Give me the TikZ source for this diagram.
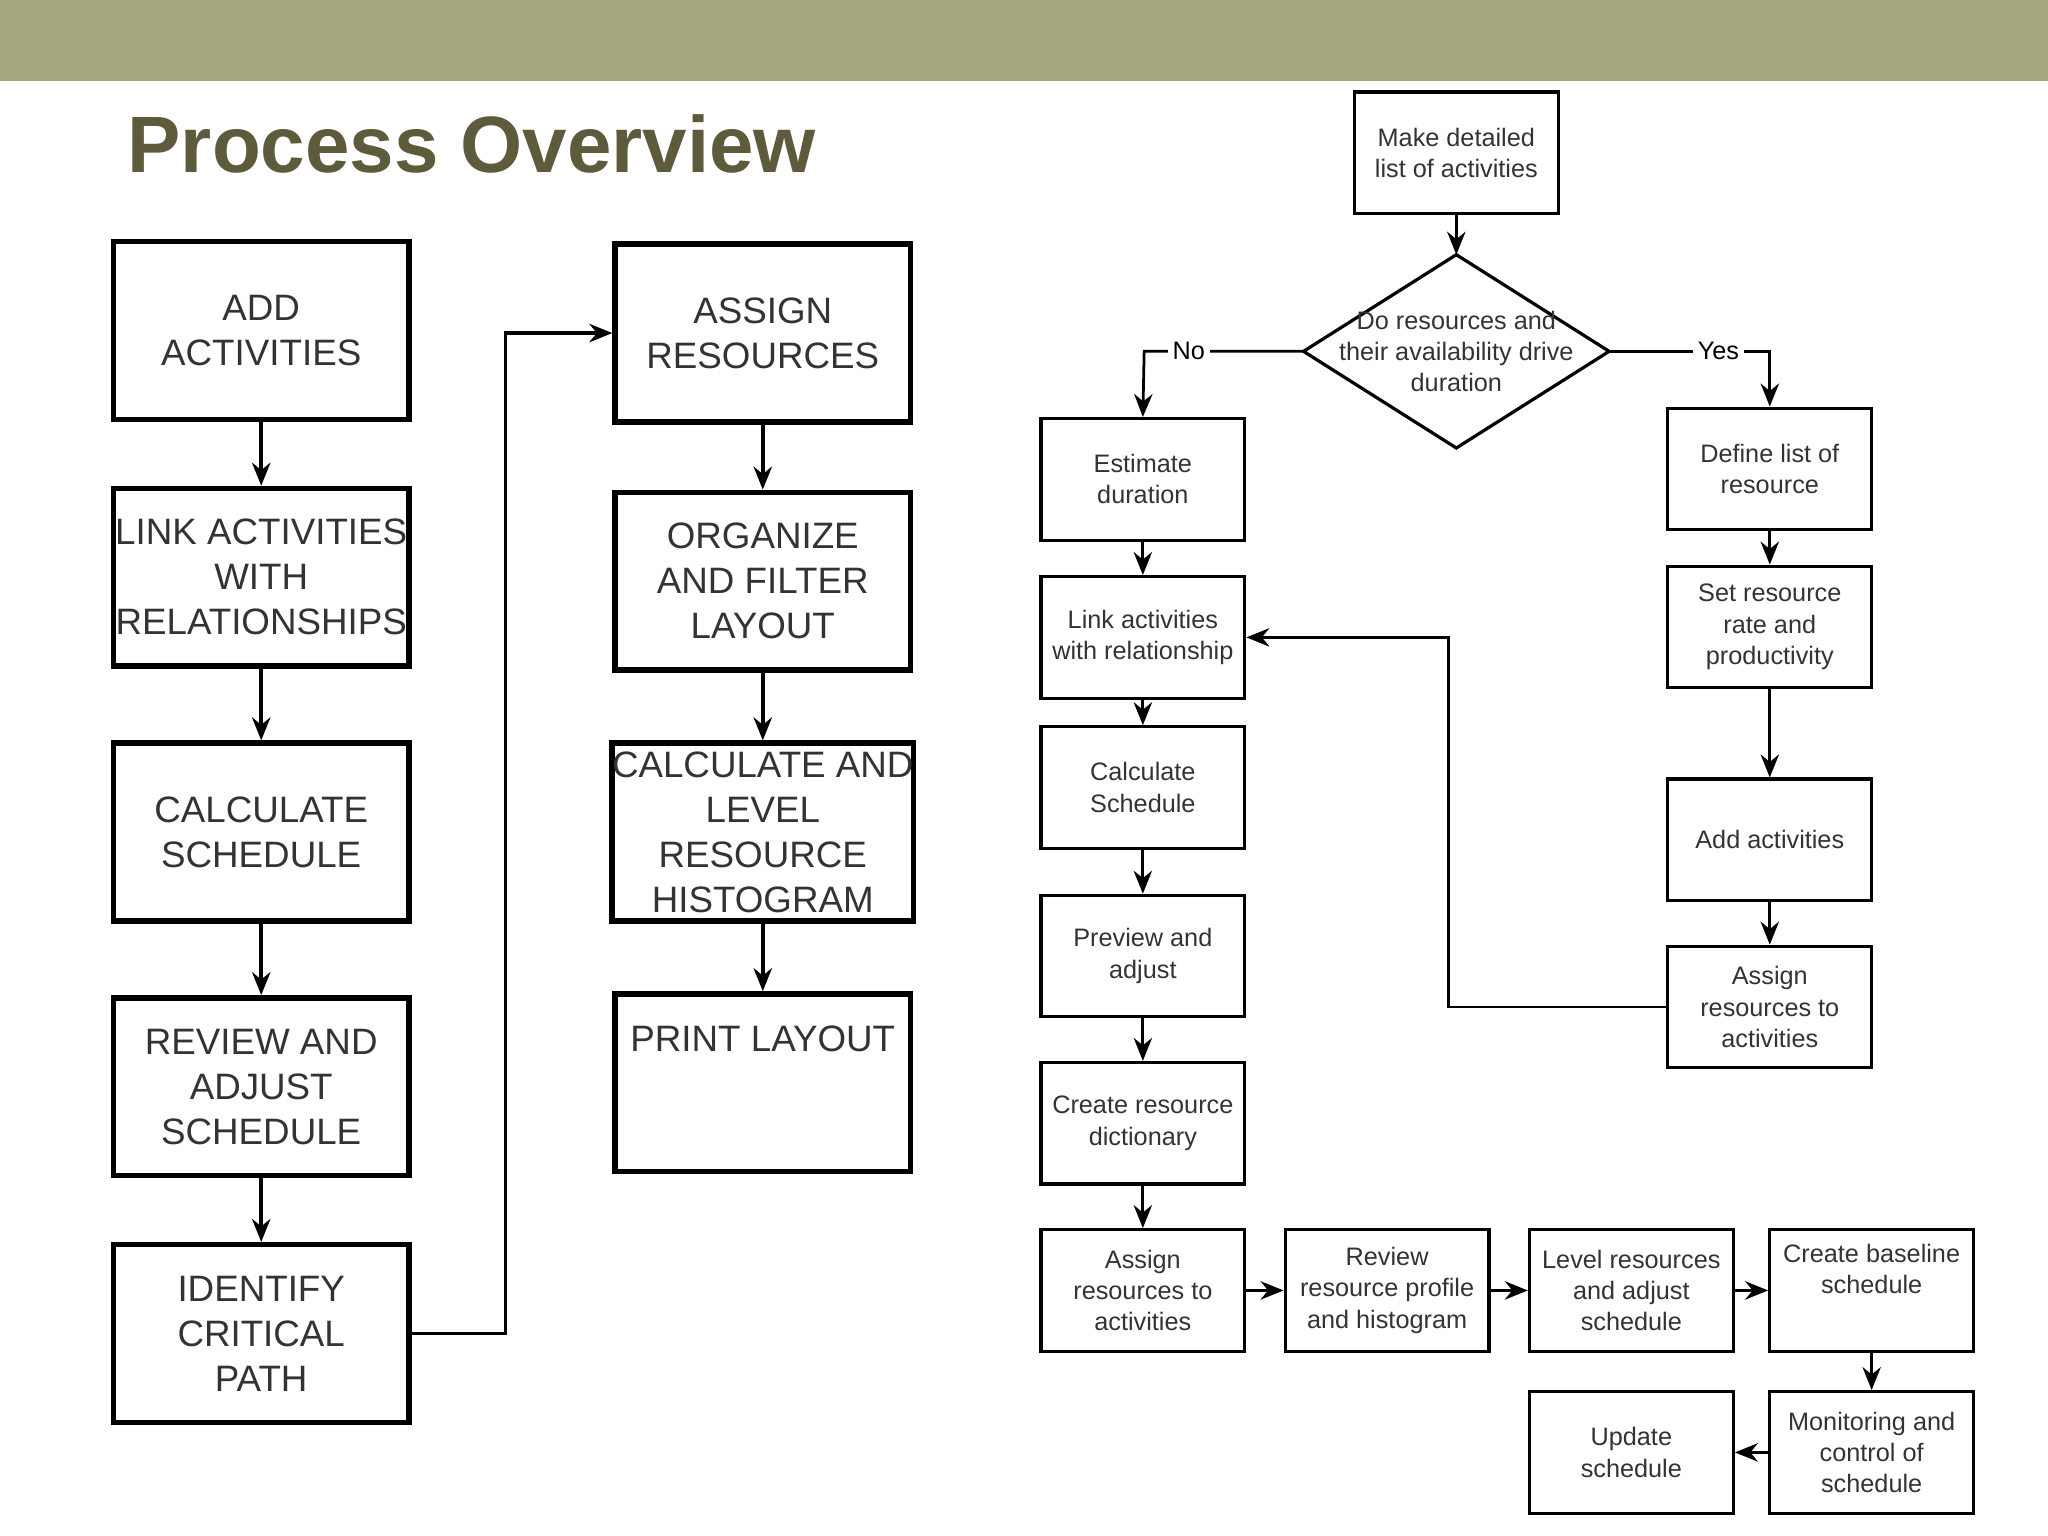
\documentclass[tikz,border=0pt]{standalone}
\usepackage{fontspec}
\setmainfont{Liberation Sans}
\usetikzlibrary{arrows.meta}
\definecolor{band}{RGB}{166,166,124}
\definecolor{ttl}{RGB}{94,90,60}
\begin{document}
\begin{tikzpicture}[x=0.01cm,y=-0.01cm,>={Stealth[length=5pt,width=4pt]},
  big/.style={draw,line width=1.2pt,minimum width=2.26cm,minimum height=1.36cm,align=center,
    inner sep=0pt,font=\fontsize{8}{9.8}\selectfont,text=black!80},
  sm/.style={draw,line width=0.7pt,minimum width=1.56cm,minimum height=0.93cm,align=center,
    inner sep=0pt,font=\fontsize{5.5}{6.8}\selectfont,text=black!80},
  arr/.style={->,line width=0.8pt},
  thn/.style={->,line width=0.6pt}]
\useasboundingbox (0,0) rectangle (1568,1176);
\fill[band] (0,0) rectangle (1568,62);
\node[anchor=west,font=\fontsize{17.4}{20}\selectfont\bfseries,text=ttl,inner sep=0] (title) at (97,110) {Process Overview};
% left columns
\node[big] (a1) at (200,253) {ADD\\ACTIVITIES};
\node[big] (a2) at (200,442) {LINK ACTIVITIES\\WITH\\RELATIONSHIPS};
\node[big] (a3) at (200,637) {CALCULATE\\SCHEDULE};
\node[big] (a4) at (200,832) {REVIEW AND\\ADJUST\\SCHEDULE};
\node[big] (a5) at (200,1021) {IDENTIFY\\CRITICAL\\PATH};
\node[big] (b1) at (584,255) {ASSIGN\\RESOURCES};
\node[big] (b2) at (584,445) {ORGANIZE\\AND FILTER\\LAYOUT};
\node[big] (b3) at (584,637) {CALCULATE AND\\LEVEL\\RESOURCE\\HISTOGRAM};
\node[big] (b4) at (584,829) {PRINT LAYOUT\\[1.2em]};
\foreach \p/\q in {a1/a2,a2/a3,a3/a4,a4/a5,b1/b2,b2/b3,b3/b4}
  \draw[arr] (\p) -- (\q);
\draw[arr] (a5.east) -- (387,1021) |- (b1.west);
% right flowchart
\node[sm] (m) at (1115,117) {Make detailed\\list of activities};
\coordinate (dn) at (1115,195);
\coordinate (dw) at (998,269);
\coordinate (de) at (1232,269);
\draw[line width=0.7pt] (dn) -- (de) -- (1115,343) -- (dw) -- cycle;
\node[font=\fontsize{5.5}{6.8}\selectfont,text=black!80,align=center,inner sep=0] (d) at (1115,269)
  {Do resources and\\their availability drive\\duration};
\node[sm] (e1) at (875,367) {Estimate\\duration};
\node[sm] (e2) at (875,488) {Link activities\\with relationship};
\node[sm] (e3) at (875,603) {Calculate\\Schedule};
\node[sm] (e4) at (875,732) {Preview and\\adjust};
\node[sm] (e5) at (875,860) {Create resource\\dictionary};
\node[sm] (e6) at (875,988) {Assign\\resources to\\activities};
\node[sm] (f1) at (1062,988) {Review\\resource profile\\and histogram};
\node[sm] (f2) at (1249,988) {Level resources\\and adjust\\schedule};
\node[sm] (f3) at (1433,988) {Create baseline\\schedule\\[0.5em]};
\node[sm] (f4) at (1433,1112) {Monitoring and\\control of\\schedule};
\node[sm] (f5) at (1249,1112) {Update\\schedule};
\node[sm] (g1) at (1355,359) {Define list of\\resource};
\node[sm] (g2) at (1355,480) {Set resource\\rate and\\productivity};
\node[sm] (g3) at (1355,643) {Add activities};
\node[sm] (g4) at (1355,771) {Assign\\resources to\\activities};
\draw[thn] (m) -- (dn);
\draw[thn] (dw) -- node[fill=white,inner sep=1pt,font=\fontsize{5.5}{7}\selectfont,pos=0.72] {No} (876,269) -- (e1.north);
\draw[thn] (de) -- node[fill=white,inner sep=1pt,font=\fontsize{5.5}{7}\selectfont,pos=0.68] {Yes} (1355,269) -- (g1.north);
\foreach \p/\q in {e1/e2,e2/e3,e3/e4,e4/e5,e5/e6,e6/f1,f1/f2,f2/f3,f3/f4,f4/f5,g1/g2,g2/g3,g3/g4}
  \draw[thn] (\p) -- (\q);
\draw[thn] (g4.west) -- (1109,771) |- (e2.east);
\end{tikzpicture}
\end{document}
